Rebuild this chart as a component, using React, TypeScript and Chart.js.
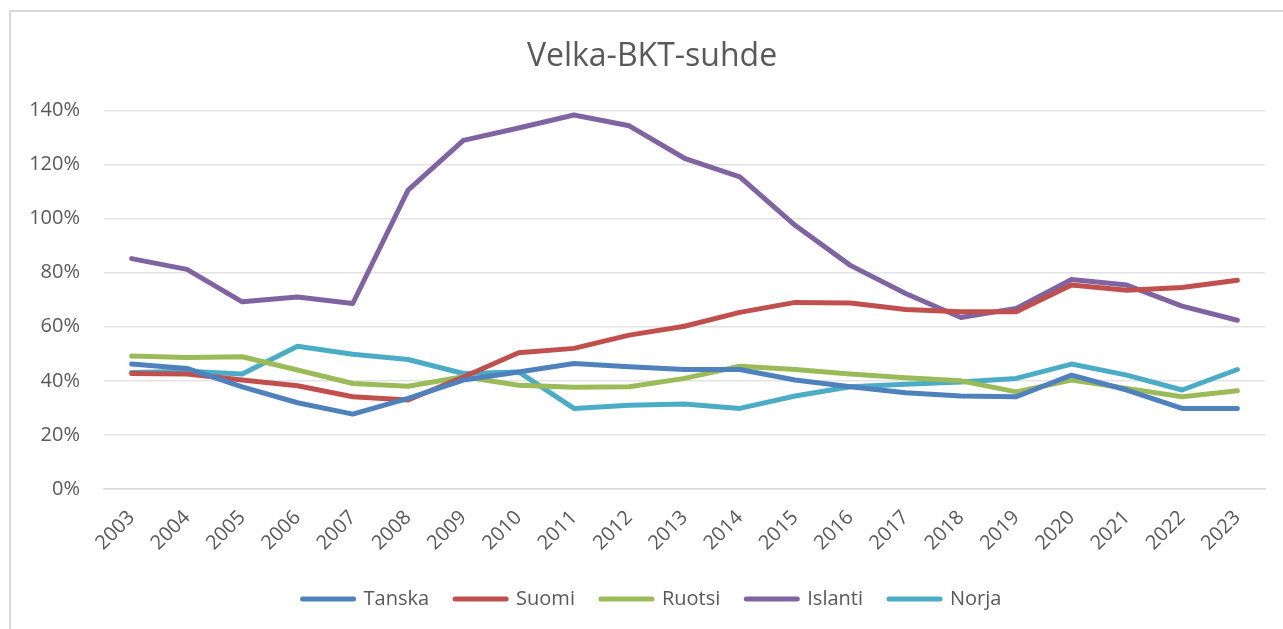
import React, { useEffect, useRef } from "react";
import { Chart, registerables } from "chart.js";

Chart.register(...registerables);

const years = ["2003","2004","2005","2006","2007","2008","2009","2010","2011","2012","2013","2014","2015","2016","2017","2018","2019","2020","2021","2022","2023"];
const tanska = [46.2, 44.6, 37.8, 31.9, 27.7, 33.5, 40.3, 43.3, 46.4, 45.2, 44.2, 44.2, 40.3, 37.8, 35.6, 34.4, 34.1, 42.1, 36.6, 29.8, 29.8];
const suomi = [42.7, 42.5, 40.3, 38.2, 34.1, 32.9, 41.4, 50.4, 52.0, 56.9, 60.2, 65.3, 69.0, 68.8, 66.4, 65.5, 65.5, 75.4, 73.5, 74.5, 77.2];
const ruotsi = [49.2, 48.6, 48.9, 44.0, 39.0, 38.0, 41.5, 38.4, 37.6, 37.8, 40.9, 45.4, 44.2, 42.5, 41.1, 40.0, 35.9, 40.3, 37.2, 34.1, 36.3];
const islanti = [85.2, 81.2, 69.2, 71.0, 68.6, 110.5, 128.9, 133.5, 138.3, 134.3, 122.3, 115.4, 97.5, 82.7, 72.3, 63.4, 66.8, 77.5, 75.4, 67.6, 62.4];
const norja = [43.1, 43.5, 42.5, 52.8, 49.8, 47.9, 42.7, 43.3, 29.8, 31.0, 31.4, 29.8, 34.4, 37.8, 38.7, 39.6, 40.9, 46.2, 42.1, 36.6, 44.2];

const seriesNames = ["Tanska", "Suomi", "Ruotsi", "Islanti", "Norja"];
const seriesColors = ["#4f81bd", "#c0504d", "#9bbb59", "#8064a2", "#4bacc6"];
const yTicks = [0, 20, 40, 60, 80, 100, 120, 140];

const FONT = "'Open Sans', 'Noto Sans', sans-serif";
const TEXT = "#595959";

// widen the y-axis label clip area so labels can sit left of the layout padding
const widenYLabelArea = {
  id: "widenYLabelArea",
  afterLayout(chart: any) {
    const y = chart.scales.y;
    if (y) y.left = 0;
  },
};

export default function App() {
  const ref = useRef<HTMLCanvasElement | null>(null);

  useEffect(() => {
    if (!ref.current) return;
    const all = [tanska, suomi, ruotsi, islanti, norja];
    const chart = new Chart(ref.current, {
      type: "line",
      data: {
        labels: years,
        datasets: all.map((d, i) => ({
          label: seriesNames[i],
          data: d,
          borderColor: seriesColors[i],
          backgroundColor: seriesColors[i],
          borderWidth: 5,
          pointRadius: 0,
          tension: 0,
          borderCapStyle: "round" as const,
          borderJoinStyle: "round" as const,
          fill: false,
        })),
      },
      plugins: [widenYLabelArea],
      options: {
        responsive: false,
        animation: false,
        layout: { padding: { left: 39, right: 40, top: 0, bottom: 10 } },
        plugins: {
          tooltip: { enabled: false },
          title: {
            display: true,
            text: "Velka-BKT-suhde",
            color: TEXT,
            font: { family: FONT, size: 32, weight: "normal" as const },
            padding: { top: 38, bottom: 34 },
          },
          legend: {
            position: "bottom",
            labels: {
              color: TEXT,
              font: { family: FONT, size: 20 },
              usePointStyle: true,
              pointStyleWidth: 51,
              boxHeight: 5,
              padding: 26,
              generateLabels: (c: any) =>
                c.data.datasets.map((ds: any, i: number) => ({
                  text: ds.label,
                  fillStyle: seriesColors[i],
                  strokeStyle: seriesColors[i],
                  lineWidth: 5,
                  lineCap: "round",
                  pointStyle: "line",
                  hidden: false,
                  datasetIndex: i,
                  fontColor: TEXT,
                })),
            },
          },
        },
        scales: {
          x: {
            offset: true,
            grid: { display: false, drawTicks: false },
            border: { display: true, color: "#d9d9d9", width: 1.5 },
            ticks: {
              color: TEXT,
              font: { family: FONT, size: 20 },
              maxRotation: 45,
              minRotation: 45,
              padding: 17,
              autoSkip: false,
            },
            afterFit: (s: any) => {
              s.height = 74;
            },
          },
          y: {
            min: 0,
            max: 140,
            grid: { color: "#e3e3e3", lineWidth: 1.5, drawTicks: false },
            border: { display: false },
            afterBuildTicks: (s: any) => {
              s.ticks = yTicks.map((v) => ({ value: v }));
            },
            ticks: {
              color: TEXT,
              font: { family: FONT, size: 20 },
              padding: 24,
              callback: (v: any) => v + "%",
            },
            afterFit: (s: any) => {
              s.width = 65;
            },
          },
        },
      },
    });
    return () => chart.destroy();
  }, []);

  return (
    <div style={{ position: "fixed", left: 0, top: 0, width: "100vw", height: "100vh", overflow: "hidden", background: "#fff" }}>
      <div
        style={{
          position: "absolute",
          left: 9,
          top: 10,
          width: 1400,
          height: 800,
          borderLeft: "2px solid #d9d9d9",
          borderTop: "2px solid #d9d9d9",
        }}
      />
      <canvas ref={ref} width={1305} height={629} style={{ position: "absolute", left: 0, top: 0 }} />
    </div>
  );
}
